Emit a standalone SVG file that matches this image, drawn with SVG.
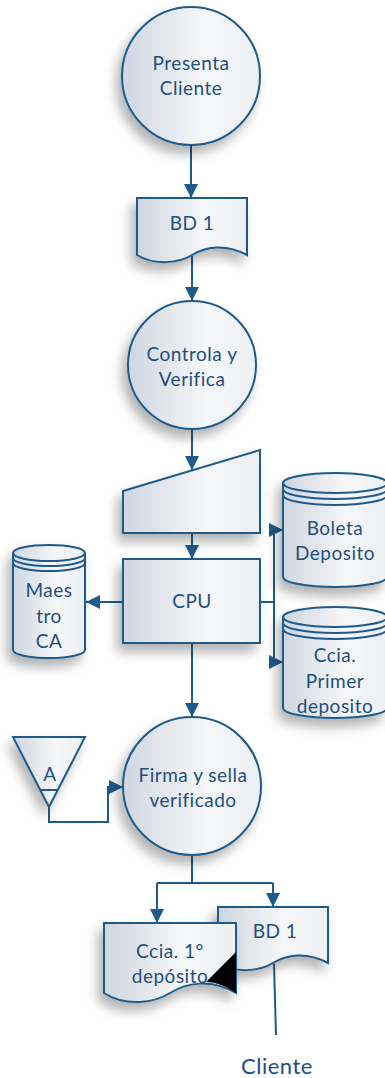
<svg xmlns="http://www.w3.org/2000/svg" width="385" height="1078" viewBox="0 0 385 1078">
  <defs>
    <linearGradient id="fillGrad" x1="0" y1="0" x2="1" y2="0">
      <stop offset="0" stop-color="#cfd6e0"/>
      <stop offset="0.6" stop-color="#f6f7f9"/>
      <stop offset="1" stop-color="#eceff3"/>
    </linearGradient>
    <filter id="shadow" x="-40%" y="-30%" width="180%" height="170%">
      <feDropShadow dx="-5" dy="8" stdDeviation="6" flood-color="#000" flood-opacity="0.3"/>
    </filter>
    <marker id="arrow" viewBox="0 0 10 10" refX="10" refY="5" markerWidth="14" markerHeight="14" markerUnits="userSpaceOnUse" orient="auto">
      <path d="M0,0 L10,5 L0,10 Z" fill="#1e5b8c"/>
    </marker>
  </defs>
  <style>
    .shape { fill: url(#fillGrad); stroke: #1e5b8c; stroke-width: 2; }
    .line { fill: none; stroke: #1e5b8c; stroke-width: 2; }
    .conn { fill: none; stroke: #1e5b8c; stroke-width: 2; }
    text { font-family: Lato, "Open Sans", "Liberation Sans", sans-serif; font-size: 19px; letter-spacing: 0.5px; fill: #1f4f7e; text-anchor: middle; }
  </style>

  <!-- connectors -->
  <g id="connectors">
    <path class="conn" d="M191,145 V198" marker-end="url(#arrow)"/>
    <path class="conn" d="M192,256 V301" marker-end="url(#arrow)"/>
    <path class="conn" d="M192,429 V470" marker-end="url(#arrow)"/>
    <path class="conn" d="M192,533 V559" marker-end="url(#arrow)"/>
    <path class="conn" d="M123,602 H86" marker-end="url(#arrow)"/>
    <path class="conn" d="M260,602 H274"/>
    <path class="conn" d="M274,530 V662"/>
    <path class="conn" d="M274,530 H283" marker-end="url(#arrow)"/>
    <path class="conn" d="M274,662 H283" marker-end="url(#arrow)"/>
    <path class="conn" d="M192,643 V717" marker-end="url(#arrow)"/>
    <path class="conn" d="M49,807 V822 H108 V787 H123" marker-end="url(#arrow)"/>
    <path class="conn" d="M192,855 V883 M157,883 H273"/>
    <path class="conn" d="M157,883 V923" marker-end="url(#arrow)"/>
    <path class="conn" d="M273,883 V907" marker-end="url(#arrow)"/>
    <path class="conn" d="M274,964 L276,1035"/>
  </g>

  <!-- Presenta Cliente -->
  <g id="presenta-cliente">
    <circle class="shape" cx="191" cy="76" r="69" filter="url(#shadow)"/>
    <text x="191" y="70">Presenta</text>
    <text x="191" y="95">Cliente</text>
  </g>

  <!-- BD 1 document -->
  <g id="bd1-top">
    <path class="shape" filter="url(#shadow)" d="M137,198 H247 V255 C225,243 205,247 192,255 S155,266 137,255 Z"/>
    <text x="192" y="230">BD 1</text>
  </g>

  <!-- Controla y Verifica -->
  <g id="controla-verifica">
    <circle class="shape" cx="192" cy="365" r="64" filter="url(#shadow)"/>
    <text x="192" y="361">Controla y</text>
    <text x="192" y="386">Verifica</text>
  </g>

  <!-- manual input -->
  <g id="manual-input">
    <path class="shape" filter="url(#shadow)" d="M123,491 L260,450 V533 H123 Z"/>
  </g>

  <!-- CPU -->
  <g id="cpu">
    <rect class="shape" x="123" y="559" width="137" height="84" filter="url(#shadow)"/>
    <text x="192" y="608">CPU</text>
  </g>

  <!-- Maestro CA -->
  <g id="maestro-ca">
    <path class="shape" filter="url(#shadow)" d="M13,553 V650 A36,8 0 0 0 85,650 V553 A36,8 0 0 0 13,553 Z"/>
    <path class="line" d="M13,553 A36,8 0 0 0 85,553 M13,558 A36,8 0 0 0 85,558 M13,563 A36,8 0 0 0 85,563"/>
    <text x="49" y="597">Maes</text>
    <text x="49" y="623">tro</text>
    <text x="49" y="648">CA</text>
  </g>

  <!-- Boleta Deposito -->
  <g id="boleta-deposito">
    <path class="shape" filter="url(#shadow)" d="M283,483 V577 A52,10 0 0 0 387,577 V483 A52,10 0 0 0 283,483 Z"/>
    <path class="line" d="M283,483 A52,10 0 0 0 387,483 M283,489 A52,10 0 0 0 387,489 M283,495 A52,10 0 0 0 387,495"/>
    <text x="335" y="535">Boleta</text>
    <text x="335" y="560">Deposito</text>
  </g>

  <!-- Ccia. Primer deposito -->
  <g id="ccia-primer-deposito">
    <path class="shape" filter="url(#shadow)" d="M283,617 V708 A52,10 0 0 0 387,708 V617 A52,10 0 0 0 283,617 Z"/>
    <path class="line" d="M283,617 A52,10 0 0 0 387,617 M283,623 A52,10 0 0 0 387,623 M283,629 A52,10 0 0 0 387,629"/>
    <text x="335" y="662">Ccia.</text>
    <text x="335" y="688">Primer</text>
    <text x="335" y="713">deposito</text>
  </g>

  <!-- offline storage A -->
  <g id="storage-a">
    <path class="shape" filter="url(#shadow)" d="M13,737 H85 L49,807 Z"/>
    <path class="line" d="M40.3,790 H57.7"/>
    <text x="50" y="781">A</text>
  </g>

  <!-- Firma y sella verificado -->
  <g id="firma-sella">
    <circle class="shape" cx="192" cy="786" r="69" filter="url(#shadow)"/>
    <text x="193" y="782">Firma y sella</text>
    <text x="193" y="807">verificado</text>
  </g>

  <!-- BD 1 document (copy) -->
  <g id="bd1-bottom">
    <path class="shape" filter="url(#shadow)" d="M218,907 H328 V963 C306,951 286,955 273,963 S236,974 218,963 Z"/>
    <text x="275" y="938">BD 1</text>
  </g>

  <!-- Ccia. 1° depósito document -->
  <g id="ccia-1-deposito">
    <path class="shape" filter="url(#shadow)" d="M104,923 H236 V993 C210,978 186,983 170,993 S126,1007 104,993 Z"/>
    <text x="170" y="958">Ccia. 1°</text>
    <text x="170" y="983">depósito</text>
    <path d="M236,952 L206,982 C216,982 226,986 236,993 Z" fill="#000"/>
  </g>

  <!-- destination -->
  <g id="cliente">
    <text x="277" y="1074" style="font-size:22px">Cliente</text>
  </g>
</svg>
